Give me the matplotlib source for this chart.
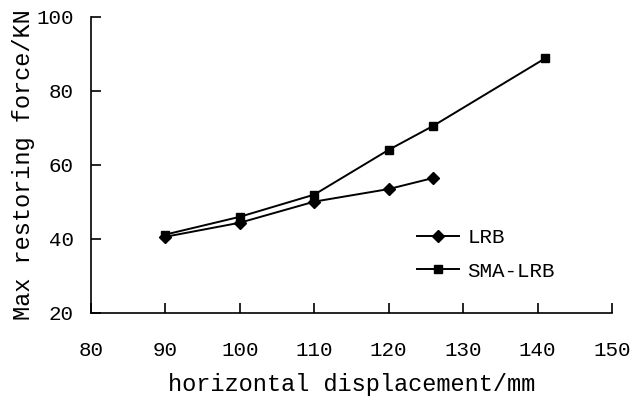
import matplotlib
matplotlib.use("Agg")
import matplotlib.pyplot as plt

# data
disp_lrb = [90, 100, 110, 120, 126]
force_lrb = [40.6, 44.4, 50.1, 53.5, 56.5]
disp_sma = [90, 100, 110, 120, 126, 141]
force_sma = [41.2, 46.0, 52.0, 64.1, 70.6, 88.8]
x_ticks = [80, 90, 100, 110, 120, 130, 140, 150]
y_ticks = [20, 40, 60, 80, 100]

plt.rcParams['font.family'] = ['Liberation Mono', 'DejaVu Sans Mono']

fig = plt.figure(figsize=(6.33, 3.98), dpi=100)
ax = fig.add_axes([91 / 633, 1 - 313 / 398, (612 - 91) / 633, (313 - 17) / 398])

ax.plot(disp_lrb, force_lrb, color='black', linewidth=1.4, marker='D', markersize=6.3, label='LRB')
ax.plot(disp_sma, force_sma, color='black', linewidth=1.4, marker='s', markersize=6.3, label='SMA-LRB')

ax.set_xlim(80, 150)
ax.set_ylim(20, 100)
ax.set_xticks(x_ticks)
ax.set_yticks(y_ticks)
ax.spines['top'].set_visible(False)
ax.spines['right'].set_visible(False)
for s in ('left', 'bottom'):
    ax.spines[s].set_linewidth(1.2)
ax.tick_params(direction='in', length=7, width=1.2, labelsize=15)
ax.tick_params(axis='x', pad=20)
ax.tick_params(axis='y', pad=12.5)

ax.set_xlabel('horizontal displacement/mm', fontsize=17, labelpad=9.5)
ax.set_ylabel('Max restoring force/KN', fontsize=17, labelpad=1)

ax.legend(loc='upper left', bbox_to_anchor=(0.61, 0.315), frameon=False, fontsize=15,
          handlelength=2.0, handletextpad=0.4, labelspacing=0.7, borderaxespad=0)

fig.savefig('out.png', dpi=100)
